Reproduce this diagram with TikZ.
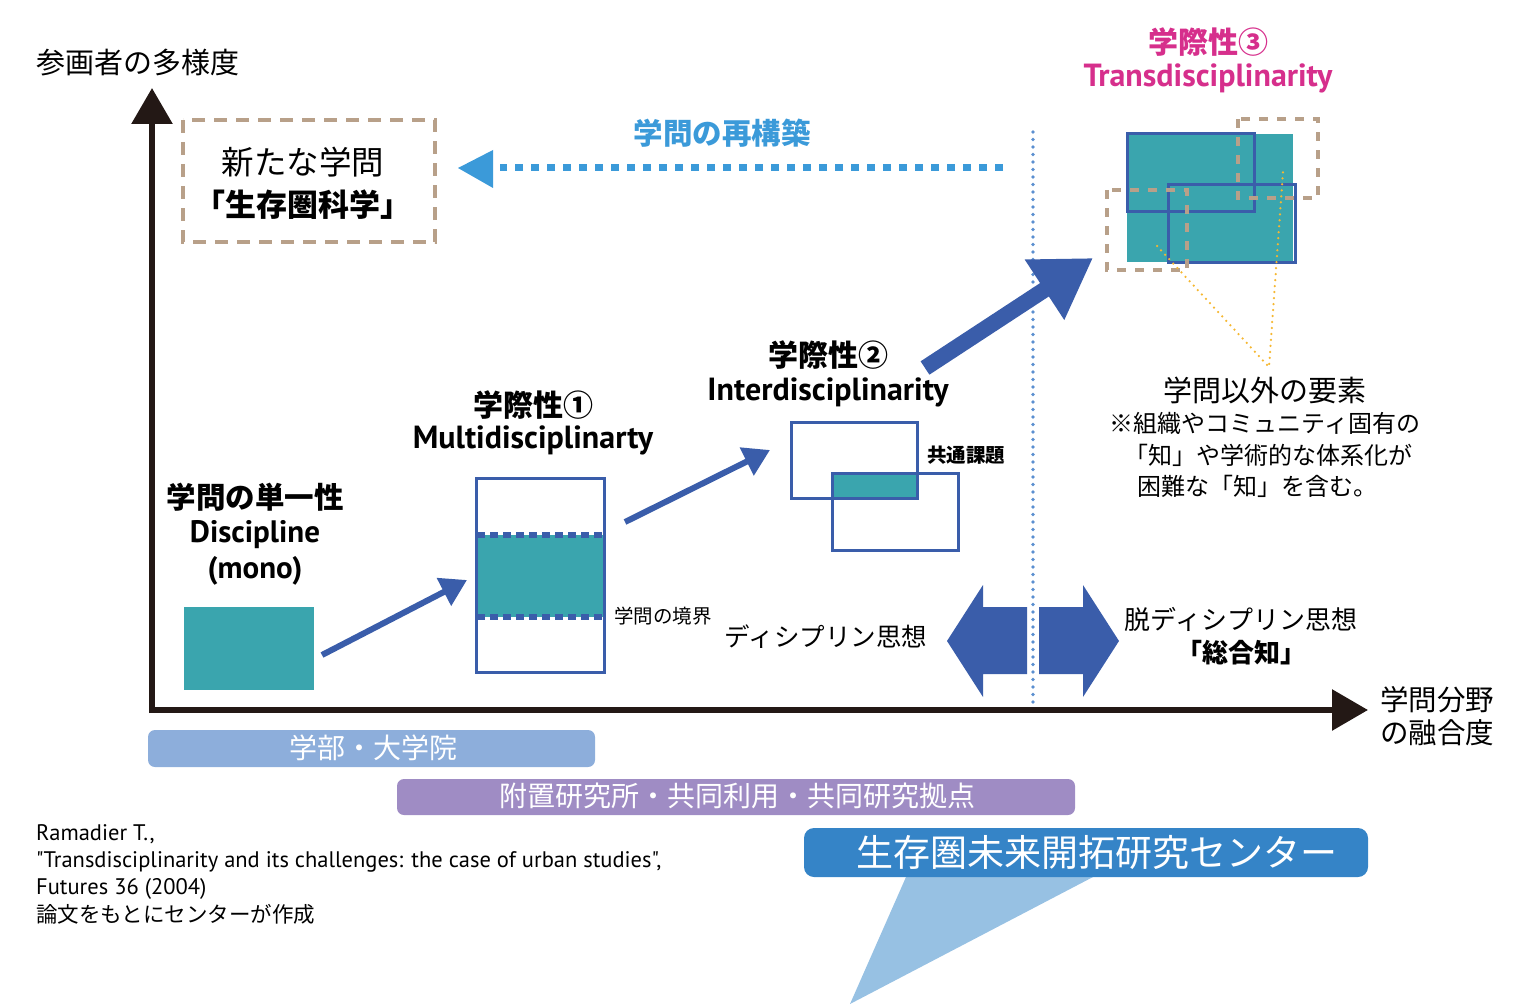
\documentclass[tikz,border=0pt]{standalone}
\usepackage{fontspec}
\setmainfont{Noto Sans CJK JP}
\newfontfamily\lat{PT Sans}
\usetikzlibrary{arrows.meta}
\definecolor{axis}{HTML}{231815}
\definecolor{teal}{HTML}{3AA5AE}
\definecolor{bstroke}{HTML}{3A5DAA}
\definecolor{tan}{HTML}{B8A089}
\definecolor{mag}{HTML}{D62F8C}
\definecolor{skyb}{HTML}{3B9AD9}
\definecolor{vdot}{HTML}{5B8FD0}
\definecolor{orng}{HTML}{F5B731}
\definecolor{bar1}{HTML}{8DAEDB}
\definecolor{bar2}{HTML}{9F8CC4}
\definecolor{bar3}{HTML}{3584C7}
\definecolor{tri}{HTML}{97C1E3}
\newcommand{\fsz}[1]{\fontsize{#1}{#1}\selectfont}
\tikzset{
  boxline/.style={draw=bstroke, line width=3pt},
  tandash/.style={draw=tan, line width=4pt, dash pattern=on 13pt off 9pt},
  tandashs/.style={draw=tan, line width=4pt, dash pattern=on 9pt off 9pt},
  flowarrow/.style={draw=bstroke, line width=6pt, -{Triangle[length=26pt,width=30pt]}},
  bartext/.style={text=white, inner sep=0pt},
  lbl/.style={inner sep=0pt, align=center},
}
\begin{document}
\begin{tikzpicture}[x=1pt,y=-1pt]
\useasboundingbox (0,0) rectangle (1516,1006);
% axes
\coordinate (ytip) at (152,88);
\coordinate (xtip) at (1368,710);
\coordinate (ybase) at (152,713);
\coordinate (xbase) at (149,710);
\draw[axis, line width=6pt, -{Triangle[length=36pt,width=40pt]}] (ybase) -- (ytip);
\draw[axis, line width=6pt, -{Triangle[length=36pt,width=40pt]}] (xbase) -- (xtip);
\node[lbl, anchor=west, font=\fsz{29}] (ylab) at (36,63) {参画者の多様度};
\node[lbl, font=\fsz{28.5}] (xlab) at (1437,716) {学問分野\\[4pt]の融合度};

% new science box
\draw[tandash] (183,120) rectangle (435,242);
\node[lbl, font=\fsz{32.5}] (new1) at (303,162) {新たな学問};
\node[lbl, font=\fsz{31}\bfseries] (new2) at (303,205) {「生存圏科学」};

% rebuild arrow
\node[lbl, text=skyb, font=\fsz{29.5}\bfseries] (reb) at (722,133) {学問の再構築};
\coordinate (rs) at (1003,168);
\coordinate (re) at (500,168);
\draw[skyb, line width=7pt, dash pattern=on 8pt off 8pt] (rs) -- (re);
\fill[skyb] (458,168) -- (493,150) -- (493,188) -- cycle;

% vertical dotted line
\draw[vdot, line width=3.6pt, line cap=round, dash pattern=on 0pt off 7.5pt] (1033,132) -- (1033,703);

% top right
\node[lbl, text=mag, font=\fsz{30}\bfseries] (t3a) at (1208,42) {学際性③};
\node[lbl, text=mag, font=\fsz{32}\bfseries\lat] (t3b) at (1208,78) {Transdisciplinarity};
\fill[teal] (1127,134) rectangle (1293,262);
\draw[boxline] (1127,134) rectangle (1254,211);
\draw[boxline] (1168,185) rectangle (1295,262);
\draw[tandashs] (1238,119) rectangle (1318,198);
\draw[tandashs] (1107,190) rectangle (1187,270);
\coordinate (oa) at (1157,246);
\coordinate (ob) at (1283,172);
\coordinate (oc) at (1269,367);
\draw[orng, line width=2.5pt, line cap=round, dash pattern=on 0pt off 6pt] (oa) -- (oc) -- (ob);
\node[lbl, font=\fsz{29}] (el1) at (1265,390) {学問以外の要素};
\node[lbl, font=\fsz{24}] (el2) at (1265,423) {※組織やコミュニティ固有の};
\node[lbl, font=\fsz{24}] (el3) at (1268,455) {「知」や学術的な体系化が};
\node[lbl, font=\fsz{24}] (el4) at (1257,486) {困難な「知」を含む。};

% big arrow
\coordinate (ba) at (925,368);
\coordinate (bb) at (1093,258);
\draw[bstroke, line width=16pt, -{Triangle[length=58pt,width=68pt]}] (ba) -- (bb);

% interdisciplinarity
\node[lbl, font=\fsz{30}\bfseries] (t2a) at (828,355) {学際性②};
\node[lbl, font=\fsz{32}\bfseries\lat] (t2b) at (828,392) {Interdisciplinarity};
\fill[teal] (832,473) rectangle (917,498);
\draw[boxline] (791,422) rectangle (917,498);
\draw[boxline] (832,473) rectangle (958,550);
\node[lbl, font=\fsz{19.5}\bfseries, anchor=west] (kyo) at (927,455) {共通課題};

% multidisciplinarity
\node[lbl, font=\fsz{30}\bfseries] (t1a) at (533,405) {学際性①};
\node[lbl, font=\fsz{32}\bfseries\lat] (t1b) at (533,440) {Multidisciplinarty};
\fill[teal] (476,535) rectangle (604,617);
\draw[boxline] (476,478) rectangle (604,672);
\draw[bstroke, line width=6pt, dash pattern=on 8pt off 5pt] (477,535) -- (604,535);
\draw[bstroke, line width=6pt, dash pattern=on 8pt off 5pt] (477,617) -- (604,617);
\node[lbl, font=\fsz{19.5}, anchor=west] (kyokai) at (614,616) {学問の境界};
\coordinate (a2s) at (625,522);
\coordinate (a2e) at (770,450);
\draw[flowarrow] (a2s) -- (a2e);

% discipline
\node[lbl, font=\fsz{29.5}\bfseries] (t0a) at (255,497) {学問の単一性};
\node[lbl, font=\fsz{31}\bfseries\lat] (t0b) at (255,535) {Discipline};
\node[lbl, font=\fsz{31}\bfseries\lat] (t0c) at (255,571) {(mono)};
\fill[teal] (184,607) rectangle (314,690);
\coordinate (a1s) at (322,655);
\coordinate (a1e) at (467,580);
\draw[flowarrow] (a1s) -- (a1e);

% thought
\node[lbl, font=\fsz{25.5}] (dis) at (826,637) {ディシプリン思想};
\fill[bstroke] (947,641) -- (983,585) -- (983,607) -- (1027,607) -- (1027,674) -- (983,674) -- (983,697) -- cycle;
\fill[bstroke] (1119,641) -- (1083,585) -- (1083,607) -- (1039,607) -- (1039,674) -- (1083,674) -- (1083,697) -- cycle;
\node[lbl, font=\fsz{26}] (dat1) at (1241,619) {脱ディシプリン思想};
\node[lbl, font=\fsz{26}\bfseries] (dat2) at (1241,653) {「総合知」};

% bars
\fill[bar1, rounded corners=7pt] (148,730) rectangle (595,767);
\node[bartext, font=\fsz{28}] (b1) at (373,748) {学部・大学院};
\fill[bar2, rounded corners=7pt] (397,779) rectangle (1075,815);
\node[bartext, font=\fsz{28}] (b2) at (737,796) {附置研究所・共同利用・共同研究拠点};
\fill[tri] (906,877) -- (1093,877) -- (850,1004) -- cycle;
\fill[bar3, rounded corners=10pt] (804,828) rectangle (1368,877);
\node[bartext, font=\fsz{37}] (b3) at (1097,852) {生存圏未来開拓研究センター};

% reference
\node[lbl, anchor=north west, align=left, font=\fsz{22.5}\lat] (ref) at (36,824) {Ramadier T.,\\[4.5pt]"Transdisciplinarity and its challenges: the case of urban studies",\\[4.5pt]Futures 36 (2004)\\[4.5pt]{\normalfont\fsz{21.5}論文をもとにセンターが作成}};
\end{tikzpicture}
\end{document}
